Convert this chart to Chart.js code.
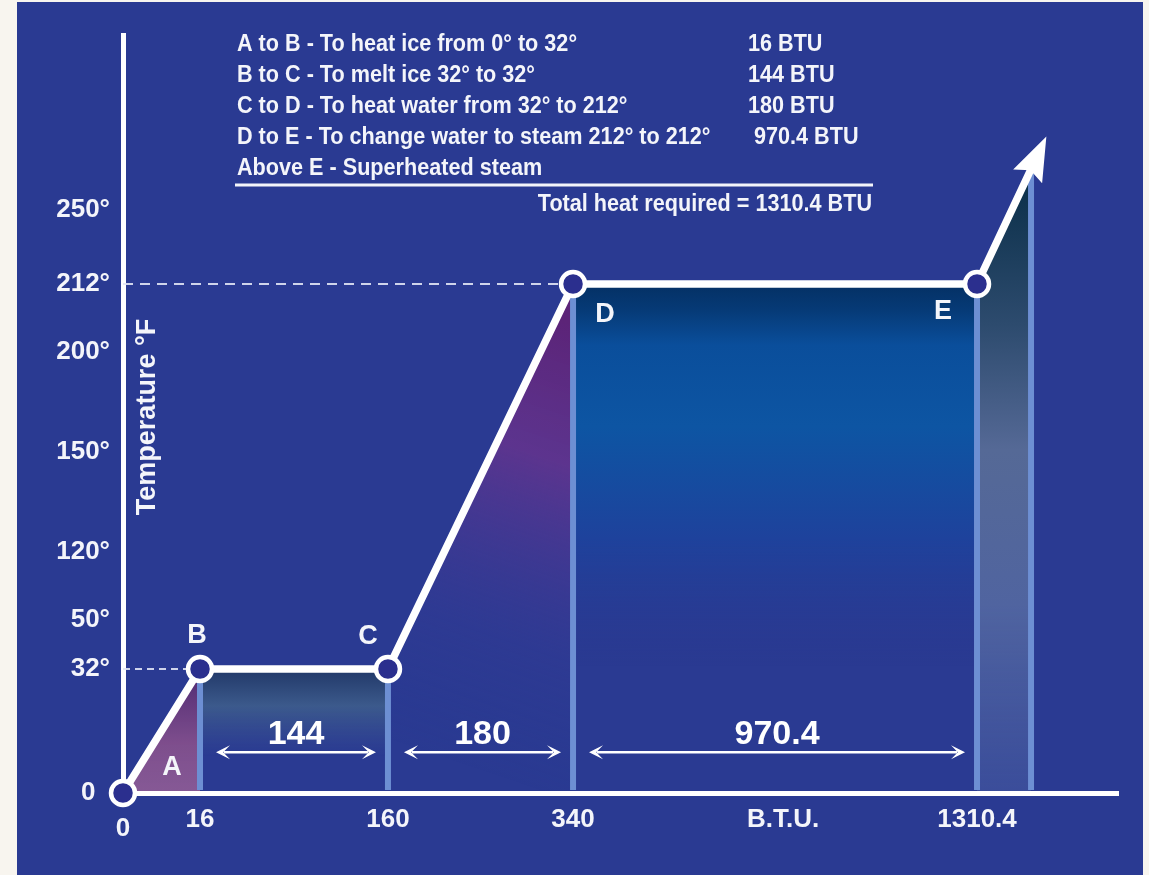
<!DOCTYPE html>
<html>
<head>
  <meta charset="utf-8">
  <title>Heat required to change ice into steam</title>
  <style>
    html, body { margin: 0; padding: 0; }
    body { width: 1149px; height: 875px; background: #f8f5ef; position: relative; overflow: hidden; }
    #panel { position: absolute; left: 17px; top: 2px; width: 1126px; height: 873px; background: #2a3a92; }
    #wrap { position: absolute; left: 0; top: 0; width: 1149px; height: 875px; }
  </style>
</head>
<body>
  <div id="panel"></div>
  <div id="wrap"><canvas id="chart"></canvas></div>

  <script src="https://cdn.jsdelivr.net/npm/chart.js"></script>
  <script>
    // heating curve: BTU added vs temperature (°F)
    const btu = [0, 16, 160, 340, 1310.4, 1450];
    const tempF = [0, 32, 32, 212, 212, 271];
    const pointNames = ['A', 'B', 'C', 'D', 'E'];

    const xTicks = [0, 16, 160, 340, 1310.4];
    const xTickLabels = ['0', '16', '160', '340', '1310.4'];
    const yTicks = [0, 32, 50, 120, 150, 200, 212, 250];
    const yTickLabels = ['0  ', '32°', '50°', '120°', '150°', '200°', '212°', '250°'];

    const spanLabels = ['144', '180', '970.4'];
    const spanLevel = 10.5;

    const notes = [
      'A to B - To heat ice from 0° to 32°',
      'B to C - To melt ice 32° to 32°',
      'C to D - To heat water from 32° to 212°',
      'D to E - To change water to steam 212° to 212°',
      'Above E - Superheated steam'
    ];
    const noteValues = ['16 BTU', '144 BTU', '180 BTU', ' 970.4 BTU', ''];
    const totalNote = 'Total heat required = 1310.4 BTU';

    // the drawing is schematic: each axis is stretched piece by piece
    const scaleBreaks = {
      x: [[0, 0], [16, 0.0774], [160, 0.2663], [340, 0.4523], [1310.4, 0.8583], [1450, 0.9126], [1700, 1]],
      y: [[0, 0], [32, 0.1636], [50, 0.2282], [120, 0.3179], [150, 0.4499], [200, 0.5818], [212, 0.6715], [250, 0.7691], [340, 1]]
    };

    function mapPiece(v, br, a, b) {
      let i = 1;
      while (i < br.length - 1 && v > br[i][a]) i++;
      const p0 = br[i - 1], p1 = br[i];
      return p0[b] + (v - p0[a]) * (p1[b] - p0[b]) / (p1[a] - p0[a]);
    }

    class PiecewiseScale extends Chart.LinearScale {
      getPixelForValue(value) {
        return this.getPixelForDecimal(mapPiece(value, scaleBreaks[this.id], 0, 1));
      }
      getValueForPixel(pixel) {
        return mapPiece(this.getDecimalForPixel(pixel), scaleBreaks[this.id], 1, 0);
      }
    }
    PiecewiseScale.id = 'piecewise';
    PiecewiseScale.defaults = Chart.LinearScale.defaults;
    Chart.register(PiecewiseScale);

    const white = '#f4f5fa';
    const fontFamily = "'Liberation Sans', Arial, sans-serif";
    Chart.defaults.font.family = fontFamily;

    // gradient stops for the area under each part of the curve
    const fillStops = [
      [[0, 'rgba(80,40,112,0.95)'], [0.6, 'rgba(135,80,140,0.9)'], [1, 'rgba(150,95,150,0.85)']],
      [[0, 'rgb(33,56,104)'], [0.3, 'rgb(60,90,140)'], [0.7, 'rgba(55,80,145,0)']],
      [[0, 'rgba(92,36,120,1)'], [0.3, 'rgba(98,52,142,0.9)'], [0.7, 'rgba(60,58,150,0.25)'], [1, 'rgba(42,58,146,0)']],
      [[0, 'rgb(4,48,100)'], [0.05, 'rgb(6,58,118)'], [0.12, 'rgb(10,78,155)'], [0.28, 'rgb(13,85,163)'], [0.5, 'rgba(30,66,156,1)'], [0.75, 'rgba(42,58,146,0)']],
      [[0, 'rgb(8,45,70)'], [0.25, 'rgb(45,75,110)'], [0.45, 'rgb(85,105,150)'], [0.7, 'rgb(80,100,160)'], [1, 'rgba(70,90,160,0.6)']]
    ];

    function gradientFor(i) {
      return (context) => {
        const chart = context.chart;
        if (!chart.chartArea) return 'transparent';
        const { x, y } = chart.scales;
        const top = y.getPixelForValue(Math.max(tempF[i], tempF[i + 1]));
        const bottom = y.getPixelForValue(0);
        let g;
        if (tempF[i + 1] > tempF[i] && i === 2) {
          // rising water segment: colour hugs the right-hand side
          g = chart.ctx.createLinearGradient(x.getPixelForValue(btu[i + 1]), top + 40,
            x.getPixelForValue(btu[i]) + 40, bottom - 40);
        } else {
          g = chart.ctx.createLinearGradient(0, top, 0, bottom);
        }
        fillStops[i].forEach(s => g.addColorStop(s[0], s[1]));
        return g;
      };
    }

    const datasets = [];

    // areas under the curve
    for (let i = 0; i < btu.length - 1; i++) {
      datasets.push({
        data: [{ x: btu[i], y: tempF[i] }, { x: btu[i + 1], y: tempF[i + 1] }],
        fill: 'origin',
        backgroundColor: gradientFor(i),
        borderWidth: 0,
        pointRadius: 0,
        order: 10
      });
    }

    // light blue drop lines
    for (let i = 1; i < btu.length; i++) {
      datasets.push({
        data: [{ x: btu[i], y: 0 }, { x: btu[i], y: tempF[i] }],
        borderColor: '#6d8fd3',
        borderWidth: 6,
        pointRadius: 0,
        fill: false,
        clip: { left: 10, right: 10, top: 10, bottom: -3 },
        order: 6
      });
    }

    // dashed guides to the y axis
    datasets.push({
      data: [{ x: 0, y: tempF[3] }, { x: btu[3], y: tempF[3] }],
      borderColor: 'rgba(225,230,245,0.9)', borderWidth: 2, borderDash: [10, 7],
      pointRadius: 0, fill: false, order: 5
    });
    datasets.push({
      data: [{ x: 0, y: tempF[1] }, { x: btu[1], y: tempF[1] }],
      borderColor: 'rgba(225,230,245,0.9)', borderWidth: 2, borderDash: [7, 5],
      pointRadius: 0, fill: false, order: 5
    });

    // the curve itself
    datasets.push({
      data: btu.map((x, i) => ({ x: x, y: tempF[i] })),
      borderColor: '#ffffff',
      borderWidth: 7.5,
      fill: false,
      tension: 0,
      pointRadius: btu.map((_, i) => i < pointNames.length ? 12 : 0),
      pointHoverRadius: btu.map((_, i) => i < pointNames.length ? 12 : 0),
      pointBackgroundColor: '#2b2f8e',
      pointBorderColor: '#ffffff',
      pointBorderWidth: 4.5,
      clip: false,
      order: 1
    });

    function arrowHead(ctx, bx, by, ux, uy, len, half, back) {
      const nx = -uy, ny = ux;
      ctx.beginPath();
      ctx.moveTo(bx + ux * len, by + uy * len);
      ctx.lineTo(bx - ux * back + nx * half, by - uy * back + ny * half);
      ctx.lineTo(bx - ux * (back * 0.15), by - uy * (back * 0.15));
      ctx.lineTo(bx - ux * back - nx * half, by - uy * back - ny * half);
      ctx.closePath();
      ctx.fill();
    }

    function condensedText(ctx, text, x, y, sx) {
      ctx.save();
      ctx.translate(x, y);
      ctx.scale(sx, 1);
      ctx.fillText(text, 0, 0);
      ctx.restore();
    }

    const decorations = {
      id: 'decorations',
      afterDatasetsDraw(chart) {
        const { ctx, scales: { x, y } } = chart;
        const main = chart.getDatasetMeta(chart.data.datasets.length - 1).data;
        ctx.save();
        ctx.fillStyle = '#ffffff';

        // arrow head at the end of the curve
        const p0 = main[main.length - 2], p1 = main[main.length - 1];
        const dx = p1.x - p0.x, dy = p1.y - p0.y;
        const d = Math.hypot(dx, dy);
        arrowHead(ctx, p1.x, p1.y, dx / d, dy / d, 36, 16, 8);

        // BTU span arrows
        const yy = y.getPixelForValue(spanLevel);
        ctx.strokeStyle = '#ffffff';
        ctx.lineWidth = 2.5;
        spanLabels.forEach((label, i) => {
          const x0 = x.getPixelForValue(btu[i + 1]) + 16;
          const x1 = x.getPixelForValue(btu[i + 2]) - 12;
          ctx.beginPath();
          ctx.moveTo(x0 + 8, yy);
          ctx.lineTo(x1 - 8, yy);
          ctx.stroke();
          arrowHead(ctx, x0 + 6, yy, -1, 0, 6, 7, 8);
          arrowHead(ctx, x1 - 6, yy, 1, 0, 6, 7, 8);
          ctx.font = 'bold 34px ' + fontFamily;
          ctx.textAlign = 'center';
          ctx.textBaseline = 'middle';
          ctx.fillText(label, (x0 + x1) / 2, yy - 18);
        });

        // point letters
        const offsets = [[49, -25], [-3, -33], [-20, -32], [32, 31], [-34, 28]];
        ctx.font = 'bold 27px ' + fontFamily;
        ctx.fillStyle = white;
        pointNames.forEach((name, i) => {
          ctx.fillText(name, main[i].x + offsets[i][0], main[i].y + offsets[i][1]);
        });
        ctx.restore();
      },
      afterDraw(chart) {
        const { ctx, chartArea, scales: { x, y } } = chart;
        ctx.save();
        ctx.fillStyle = white;
        ctx.textBaseline = 'middle';

        // origin label under the x axis and axis names
        ctx.font = 'bold 26px ' + fontFamily;
        ctx.textAlign = 'center';
        ctx.fillText(xTickLabels[0], x.getPixelForValue(0), chartArea.bottom + 36);
        ctx.fillText('B.T.U.', (x.getPixelForValue(340) + x.getPixelForValue(1310.4)) / 2 + 8, chartArea.bottom + 27);

        ctx.save();
        ctx.font = 'bold 27px ' + fontFamily;
        ctx.translate(chartArea.left + 25, y.getPixelForValue(167.5));
        ctx.rotate(-Math.PI / 2);
        ctx.fillText('Temperature °F', 0, 0);
        ctx.restore();

        // notes block
        ctx.font = 'bold 23px ' + fontFamily;
        ctx.textAlign = 'left';
        notes.forEach((t, i) => {
          const ty = 45 + i * 30.8;
          condensedText(ctx, t, 237, ty, 0.94);
          if (noteValues[i]) condensedText(ctx, noteValues[i], 748, ty, 0.94);
        });
        ctx.strokeStyle = white;
        ctx.lineWidth = 3;
        ctx.beginPath();
        ctx.moveTo(235, 185);
        ctx.lineTo(873, 185);
        ctx.stroke();
        ctx.textAlign = 'right';
        condensedText(ctx, totalNote, 872, 205, 0.94);
        ctx.restore();
      }
    };

    new Chart(document.getElementById('chart'), {
      type: 'line',
      data: { datasets: datasets },
      options: {
        responsive: true,
        maintainAspectRatio: false,
        animation: false,
        events: [],
        layout: { padding: { top: 35, right: 31, left: 0, bottom: 0 } },
        plugins: {
          legend: { display: false },
          tooltip: { enabled: false },
          filler: { drawTime: 'beforeDraw' }
        },
        scales: {
          x: {
            type: 'piecewise',
            min: 0,
            max: 1700,
            bounds: 'data',
            afterBuildTicks: s => { s.ticks = xTicks.map(v => ({ value: v })); },
            afterFit: s => { s.height = 82; },
            grid: { display: false, drawTicks: false },
            border: { display: true, color: '#ffffff', width: 5 },
            ticks: {
              color: white,
              font: { size: 26, weight: 'bold' },
              padding: 11,
              autoSkip: false,
              maxRotation: 0,
              callback: (v, i) => i === 0 ? '' : xTickLabels[i]
            }
          },
          y: {
            type: 'piecewise',
            min: 0,
            max: 340,
            bounds: 'data',
            afterBuildTicks: s => { s.ticks = yTicks.map(v => ({ value: v })); },
            afterFit: s => { s.width = 123; },
            grid: { display: false, drawTicks: false },
            border: { display: true, color: '#ffffff', width: 5 },
            ticks: {
              color: white,
              font: { size: 26, weight: 'bold' },
              padding: 13,
              autoSkip: false,
              callback: (v, i) => yTickLabels[i]
            }
          }
        }
      },
      plugins: [decorations]
    });
  </script>
</body>
</html>
